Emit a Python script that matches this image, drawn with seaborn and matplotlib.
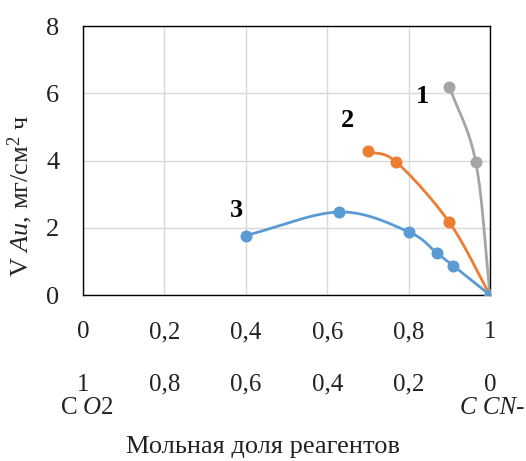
import numpy as np
import pandas as pd
import matplotlib
matplotlib.use("Agg")
import matplotlib.pyplot as plt
import seaborn as sns

sns.set_theme(style="white")
plt.rcParams["font.family"] = ["Liberation Serif", "DejaVu Serif"]
plt.rcParams["mathtext.fontset"] = "custom"
plt.rcParams["mathtext.rm"] = "Liberation Serif"
plt.rcParams["mathtext.it"] = "Liberation Serif:italic"

# Mole fraction of CN- (x) and gold dissolution rate (y), three curves
x1 = [0.90, 0.965, 1.0]
y1 = [6.2, 3.95, 0.0]
x2 = [0.70, 0.77, 0.90, 1.0]
y2 = [4.27, 3.95, 2.16, 0.0]
x3 = [0.40, 0.63, 0.80, 0.87, 0.91, 1.0]
y3 = [1.77, 2.47, 1.88, 1.24, 0.87, 0.0]

curve_names = ["1", "2", "3"]
curve_colors = ["#A5A5A5", "#ED7D31", "#5B9BD5"]
label_pos = [(0.835, 5.9), (0.651, 5.2), (0.378, 2.5)]

x_ticks = [0, 0.2, 0.4, 0.6, 0.8, 1.0]
x_ticklabels = ["0", "0,2", "0,4", "0,6", "0,8", "1"]
o2_ticks = [1.0, 0.8, 0.6, 0.4, 0.2, 0]
o2_ticklabels = ["1", "0,8", "0,6", "0,4", "0,2", "0"]
y_ticks = [0, 2, 4, 6, 8]


def smooth(xs, ys, n=30):
    """Catmull-Rom curve through the points (smoothed line like a spreadsheet chart)."""
    xs = np.asarray(xs, float)
    ys = np.asarray(ys, float) / 8.0
    P = np.column_stack([xs, ys])
    P = np.vstack([P[0] - (P[1] - P[0]), P, P[-1] + (P[-1] - P[-2])])
    out = []
    for i in range(1, len(P) - 2):
        p0, p1, p2, p3 = P[i - 1], P[i], P[i + 1], P[i + 2]
        t = np.linspace(0, 1, n)[:, None]
        seg = 0.5 * ((2 * p1) + (-p0 + p2) * t + (2 * p0 - 5 * p1 + 4 * p2 - p3) * t ** 2
                     + (-p0 + 3 * p1 - 3 * p2 + p3) * t ** 3)
        out.append(seg if i == 1 else seg[1:])
    out = np.vstack(out)
    return out[:, 0], out[:, 1] * 8.0


fig = plt.figure(figsize=(5.26, 4.61), dpi=100)
ax = fig.add_axes([0.1578, 0.360, 0.7738, 0.5836])

series = [(x1, y1), (x2, y2), (x3, y3)]
for (xs, ys), name, col in zip(series, curve_names, curve_colors):
    sx, sy = smooth(xs, ys)
    sns.lineplot(x=sx, y=sy, sort=False, estimator=None, color=col, lw=2.0, ax=ax,
                 zorder=3)
    sns.scatterplot(x=xs, y=ys, color=col, s=75, edgecolor=col, linewidth=0, ax=ax,
                    zorder=4)

for name, (lx, ly) in zip(curve_names, label_pos):
    ax.text(lx, ly, name, fontsize=19, fontweight="bold", ha="center", va="center",
            color="black")

ax.set_xlim(0, 1)
ax.set_ylim(0, 8)
ax.set_xticks(x_ticks)
ax.set_xticklabels(x_ticklabels)
ax.set_yticks(y_ticks)
ax.grid(True, color="#D9D9D9", lw=1.0)
ax.set_axisbelow(True)
for sp in ax.spines.values():
    sp.set_color("black")
    sp.set_linewidth(1.0)
ax.tick_params(axis="x", direction="in", length=6, width=1, color="#333333",
               pad=19, labelsize=18, labelcolor="#222222")
ax.tick_params(axis="y", length=0, pad=17, labelsize=19, labelcolor="#222222")

# Second scale: mole fraction of O2
sec = ax.secondary_xaxis(-0.293, functions=(lambda v: 1 - v, lambda v: 1 - v))
sec.set_xticks(o2_ticks)
sec.set_xticklabels(o2_ticklabels)
sec.spines["bottom"].set_visible(False)
sec.tick_params(axis="x", length=0, pad=0, labelsize=18, labelcolor="#222222")

ax.set_ylabel(r"V $\mathit{Au}$, мг/см$^2$ ч", fontsize=19)
ax.yaxis.set_label_coords(-0.118, 0.37)

fig.text(0.165, 0.114, r"C $\mathit{O2}$", fontsize=18, ha="center", va="center",
         color="#222222")
fig.text(0.935, 0.114, "C CN-", fontsize=18, style="italic", ha="center",
         va="center", color="#222222")
fig.text(0.5, 0.03, "Мольная доля реагентов", fontsize=19, ha="center",
         va="center", color="#222222")

fig.savefig("out.png", dpi=100)
